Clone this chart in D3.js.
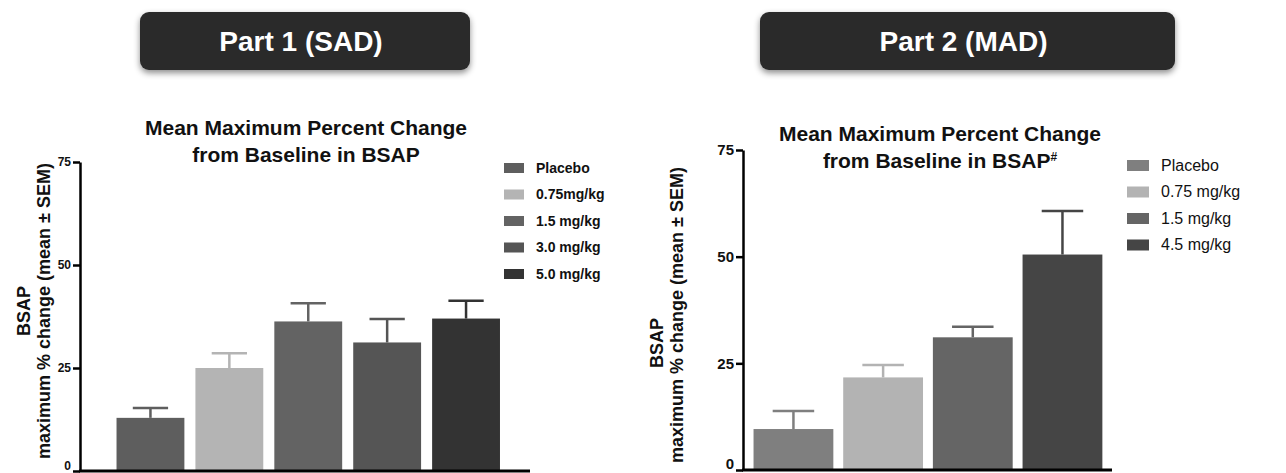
<!DOCTYPE html>
<html>
<head>
<meta charset="utf-8">
<script src="https://cdn.jsdelivr.net/npm/d3@7"></script>
<style>
  body { margin: 0; background: #fff; }
  svg { display: block; font-family: "Liberation Sans", Arial, sans-serif; }
</style>
</head>
<body>
<div id="chart"></div>
<script>
// Chart size
const width = 1286;
const height = 473;

// Part 1 (SAD) data
const doseSAD = ["Placebo", "0.75mg/kg", "1.5 mg/kg", "3.0 mg/kg", "5.0 mg/kg"];
const meanSAD = [12.9, 25.0, 36.3, 31.2, 37.0];
const semSAD = [2.4, 3.6, 4.4, 5.7, 4.3];
const colorSAD = ["#5e5e5e", "#b4b4b4", "#636363", "#555555", "#333333"];

// Part 2 (MAD) data
const doseMAD = ["Placebo", "0.75 mg/kg", "1.5 mg/kg", "4.5 mg/kg"];
const meanMAD = [9.6, 21.7, 31.1, 50.5];
const semMAD = [4.2, 2.9, 2.5, 10.2];
const colorMAD = ["#7f7f7f", "#b3b3b3", "#656565", "#454545"];

const yTicks = [0, 25, 50, 75];

const svg = d3.select("#chart").append("svg")
    .attr("width", width)
    .attr("height", height);

// Drop shadow for the banners
svg.append("defs").append("filter")
    .attr("id", "shadow")
    .attr("x", "-10%").attr("y", "-30%")
    .attr("width", "120%").attr("height", "170%")
    .append("feDropShadow")
    .attr("dx", 0).attr("dy", 3)
    .attr("stdDeviation", 3)
    .attr("flood-color", "#000")
    .attr("flood-opacity", 0.45);

function drawPanel(p) {
    const g = svg.append("g");

    // Banner
    g.append("rect")
        .attr("x", p.banner[0]).attr("y", 12)
        .attr("width", p.banner[1] - p.banner[0]).attr("height", 58)
        .attr("rx", 9)
        .attr("fill", "#2b2b2b")
        .attr("filter", "url(#shadow)");
    g.append("text")
        .attr("x", (p.banner[0] + p.banner[1]) / 2 - 4).attr("y", 51)
        .attr("text-anchor", "middle")
        .attr("font-size", 28).attr("font-weight", "bold")
        .attr("fill", "#fff")
        .text(p.name);

    const x = d3.scaleBand()
        .domain(p.doses)
        .range(p.bandRange)
        .paddingInner(p.pad)
        .paddingOuter(p.pad / 2);

    const y = d3.scaleLinear()
        .domain([0, 75])
        .range([p.bottom, p.top]);

    // Title
    const title = g.append("text")
        .attr("text-anchor", "middle")
        .attr("font-size", 21).attr("font-weight", "bold")
        .attr("fill", "#111");
    title.append("tspan")
        .attr("x", p.titleX).attr("y", p.titleY)
        .text("Mean Maximum Percent Change");
    const t2 = title.append("tspan")
        .attr("x", p.titleX).attr("y", p.titleY + 27)
        .text("from Baseline in BSAP");
    if (p.hash) {
        t2.append("tspan")
            .attr("font-size", 12).attr("dy", -7)
            .text("#");
    }

    // Bars
    g.selectAll(".bar")
        .data(p.doses)
        .join("rect")
        .attr("x", d => x(d))
        .attr("y", (d, i) => y(p.means[i]))
        .attr("width", x.bandwidth())
        .attr("height", (d, i) => y(0) - y(p.means[i]))
        .attr("fill", (d, i) => p.colors[i]);

    // Upper error bars (mean + SEM)
    const capW = x.bandwidth() * 0.52;
    const err = g.append("g")
        .attr("stroke-width", 2.5);
    p.doses.forEach((d, i) => {
        const cx = x(d) + x.bandwidth() / 2;
        err.append("line")
            .attr("x1", cx).attr("x2", cx)
            .attr("y1", y(p.means[i])).attr("y2", y(p.means[i] + p.sems[i]))
            .attr("stroke", p.colors[i]);
        err.append("line")
            .attr("x1", cx - capW / 2).attr("x2", cx + capW / 2)
            .attr("y1", y(p.means[i] + p.sems[i])).attr("y2", y(p.means[i] + p.sems[i]))
            .attr("stroke", p.colors[i]);
    });

    // Y axis
    const yAxis = g.append("g")
        .attr("transform", `translate(${p.left},0)`)
        .call(d3.axisLeft(y).tickValues(yTicks).tickSize(7).tickSizeOuter(0).tickPadding(2));
    yAxis.select(".domain").attr("stroke", "#000").attr("stroke-width", 2.5);
    yAxis.selectAll(".tick line").attr("stroke", "#000").attr("stroke-width", 2.5);
    yAxis.selectAll(".tick text")
        .attr("font-size", p.tickFont).attr("font-weight", "bold")
        .attr("font-family", "Liberation Sans, Arial, sans-serif")
        .attr("fill", "#111");
    // keep the "0" label inside the picture
    yAxis.selectAll(".tick text").filter(d => d === 0).attr("dy", "-0.1em");

    // X axis line
    g.append("line")
        .attr("x1", p.left - 1).attr("x2", p.right)
        .attr("y1", y(0)).attr("y2", y(0))
        .attr("stroke", "#000").attr("stroke-width", 3);

    // Y axis label
    const yl = g.append("text")
        .attr("text-anchor", "middle")
        .attr("font-weight", "bold")
        .attr("fill", "#111")
        .attr("transform", `translate(${p.labelX},${p.labelY}) rotate(-90)`);
    yl.append("tspan")
        .attr("x", p.bsapShift).attr("y", 0)
        .attr("font-size", 18)
        .text("BSAP");
    yl.append("tspan")
        .attr("x", 0).attr("y", 20)
        .attr("font-size", 18)
        .text("maximum % change (mean ± SEM)");

    // Legend
    const lg = g.append("g")
        .attr("transform", `translate(${p.legendX},${p.legendY})`);
    const item = lg.selectAll("g")
        .data(p.doses)
        .join("g")
        .attr("transform", (d, i) => `translate(0,${i * 26.5})`);
    item.append("rect")
        .attr("x", 0).attr("y", -5)
        .attr("width", p.swatch[0]).attr("height", p.swatch[1])
        .attr("fill", (d, i) => p.colors[i]);
    item.append("text")
        .attr("x", p.swatch[0] + 12).attr("y", 0)
        .attr("dy", "0.35em")
        .attr("font-size", p.legendFont)
        .attr("font-weight", p.legendWeight)
        .attr("fill", "#111")
        .text(d => d);
}

drawPanel({
    name: "Part 1 (SAD)",
    banner: [140, 470],
    doses: doseSAD, means: meanSAD, sems: semSAD, colors: colorSAD,
    bandRange: [111, 505.5], pad: 0.14,
    left: 80, right: 530, top: 162, bottom: 471,
    titleX: 306, titleY: 135, hash: false,
    tickFont: 12,
    labelX: 30, labelY: 311, bsapShift: 0,
    legendX: 504, legendY: 168, swatch: [20, 10],
    legendFont: 14, legendWeight: "bold"
});

drawPanel({
    name: "Part 2 (MAD)",
    banner: [760, 1175],
    doses: doseMAD, means: meanMAD, sems: semMAD, colors: colorMAD,
    bandRange: [748.6, 1107.3], pad: 0.11,
    left: 743, right: 1112, top: 150, bottom: 470,
    titleX: 940, titleY: 141, hash: true,
    tickFont: 15,
    labelX: 663, labelY: 315, bsapShift: -28,
    legendX: 1127, legendY: 165, swatch: [22, 11],
    legendFont: 16, legendWeight: "normal"
});
</script>
</body>
</html>
